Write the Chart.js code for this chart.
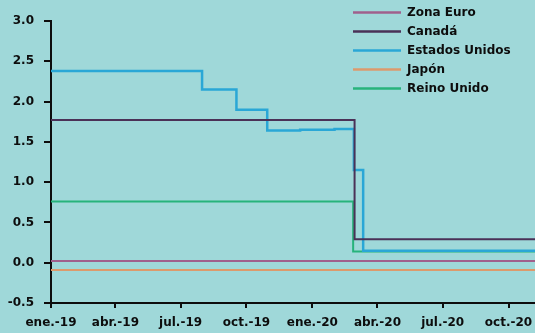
<!DOCTYPE html>
<html lang="es">
<head>
    <meta charset="UTF-8">
    <title>Tipos de interés oficiales</title>
    <style>
        body {
            margin: 0;
            background-color: #9fd8d9;
        }

        #chart {
            display: block;
        }
    </style>
</head>
<body>
    <canvas id="chart" width="535" height="333"></canvas>

    <script src="https://cdn.jsdelivr.net/npm/chart.js"></script>
    <script>
        // Datos (fechas de cambio y nivel desde esa fecha)
        const startDate = '2019-01-01';
        const endDate = '2020-11-07';

        const tickDates = ['2019-01-01', '2019-04-01', '2019-07-01', '2019-10-01',
                           '2020-01-01', '2020-04-01', '2020-07-01', '2020-10-01'];
        const tickLabels = ['ene.-19', 'abr.-19', 'jul.-19', 'oct.-19',
                            'ene.-20', 'abr.-20', 'jul.-20', 'oct.-20'];

        const seriesNames = ['Zona Euro', 'Canadá', 'Estados Unidos', 'Japón', 'Reino Unido'];
        const seriesColors = ['#a0608c', '#4a3157', '#2aa7d6', '#dc9a6c', '#27b37b'];

        const euroDates = ['2019-01-01', '2020-11-07'];
        const euroValues = [0.02, 0.02];

        const canadaDates = ['2019-01-01', '2020-02-29', '2020-11-07'];
        const canadaValues = [1.77, 0.29, 0.29];

        const usDates = ['2019-01-01', '2019-07-31', '2019-09-17', '2019-10-30',
                         '2019-12-15', '2020-02-01', '2020-02-28', '2020-03-12', '2020-11-07'];
        const usValues = [2.38, 2.15, 1.90, 1.64, 1.65, 1.66, 1.15, 0.15, 0.15];

        const japanDates = ['2019-01-01', '2020-11-07'];
        const japanValues = [-0.09, -0.09];

        const ukDates = ['2019-01-01', '2020-02-27', '2020-11-07'];
        const ukValues = [0.76, 0.14, 0.14];

        // días desde el inicio
        function dayOf(d) {
            return (Date.parse(d) - Date.parse(startDate)) / 86400000;
        }

        function toPoints(dates, values) {
            return dates.map((d, i) => ({ x: dayOf(d), y: values[i] }));
        }

        const tickDays = tickDates.map(dayOf);
        const seriesData = [
            toPoints(euroDates, euroValues),
            toPoints(canadaDates, canadaValues),
            toPoints(usDates, usValues),
            toPoints(japanDates, japanValues),
            toPoints(ukDates, ukValues)
        ];

        const ink = '#0d0d0d';
        Chart.defaults.font.family = "'DejaVu Sans', sans-serif";
        Chart.defaults.font.size = 12;
        Chart.defaults.font.weight = 'bold';
        Chart.defaults.color = ink;

        // Leyenda vertical dentro del gráfico, arriba a la derecha
        const legendInside = {
            id: 'legendInside',
            afterDraw(chart) {
                const ctx = chart.ctx;
                ctx.save();
                ctx.font = "bold 12px 'DejaVu Sans', sans-serif";
                ctx.textBaseline = 'middle';
                ctx.fillStyle = ink;
                chart.data.datasets.forEach((ds, i) => {
                    const y = 12.5 + i * 19;
                    ctx.strokeStyle = ds.borderColor;
                    ctx.lineWidth = 2.5;
                    ctx.beginPath();
                    ctx.moveTo(353, y);
                    ctx.lineTo(401, y);
                    ctx.stroke();
                    ctx.fillText(ds.label, 407, y);
                });
                ctx.restore();
            }
        };

        new Chart(document.getElementById('chart'), {
            type: 'line',
            data: {
                datasets: seriesData.map((pts, i) => ({
                    label: seriesNames[i],
                    data: pts,
                    borderColor: seriesColors[i],
                    borderWidth: i === 2 ? 2.5 : 2,
                    pointRadius: 0,
                    stepped: true,
                    fill: false
                }))
            },
            options: {
                responsive: false,
                animation: false,
                layout: {
                    padding: { top: 21, right: 0, left: 0, bottom: 0 }
                },
                plugins: {
                    legend: { display: false },
                    tooltip: { enabled: false }
                },
                scales: {
                    x: {
                        type: 'linear',
                        min: 0,
                        max: dayOf(endDate),
                        border: { color: ink, width: 2 },
                        grid: { drawOnChartArea: false, tickLength: 5, color: ink, lineWidth: 2 },
                        ticks: {
                            padding: 8,
                            autoSkip: false,
                            maxRotation: 0,
                            callback: (v) => tickLabels[tickDays.indexOf(v)]
                        },
                        afterBuildTicks: (scale) => {
                            scale.ticks = tickDays.map(v => ({ value: v }));
                        },
                        afterFit: (scale) => {
                            scale.height = 30;
                            scale.paddingLeft = 0;
                            scale.paddingRight = 0;
                        }
                    },
                    y: {
                        min: -0.5,
                        max: 3.0,
                        border: { color: ink, width: 2 },
                        grid: { drawOnChartArea: false, tickLength: 7, color: ink, lineWidth: 2 },
                        ticks: {
                            stepSize: 0.5,
                            padding: 10,
                            callback: (v) => v.toFixed(1)
                        },
                        afterFit: (scale) => {
                            scale.width = 51;
                        }
                    }
                }
            },
            plugins: [legendInside]
        });
    </script>
</body>
</html>
